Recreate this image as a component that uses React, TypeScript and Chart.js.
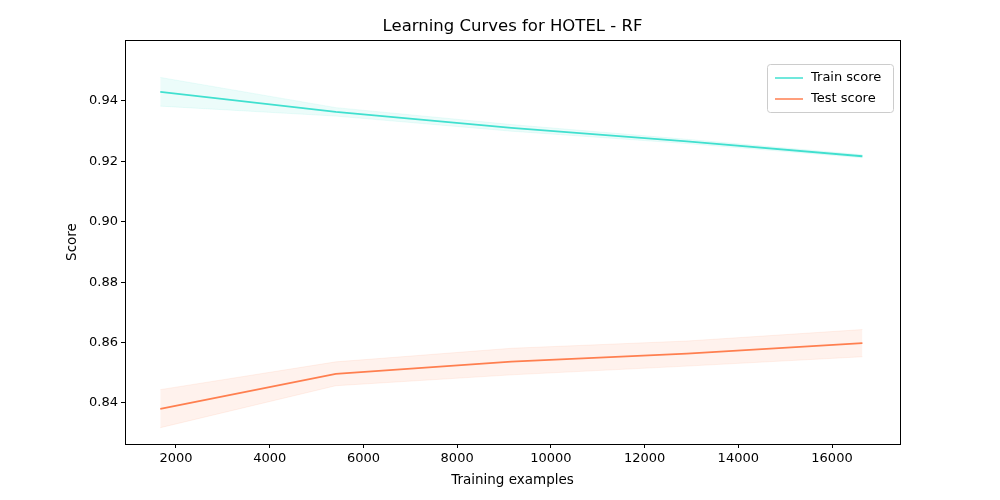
import { useEffect, useRef } from "react";
import { Chart, registerables } from "chart.js";

Chart.register(...registerables);

const trainSizes = [1665, 5411, 9157, 12903, 16649];
const trainMean = [0.943, 0.9364, 0.9311, 0.9266, 0.9217];
const trainUpper = [0.9478, 0.9378, 0.9322, 0.9273, 0.9222];
const trainLower = [0.9383, 0.935, 0.93, 0.9259, 0.9212];
const testMean = [0.838, 0.8496, 0.8537, 0.8563, 0.8598];
const testUpper = [0.8444, 0.8536, 0.8581, 0.8605, 0.8643];
const testLower = [0.8318, 0.8457, 0.8493, 0.8522, 0.8553];
const xTicks = [2000, 4000, 6000, 8000, 10000, 12000, 14000, 16000];
const yTicks = [0.84, 0.86, 0.88, 0.9, 0.92, 0.94];

const TRAIN = "#40e0d0";
const TEST = "#ff7f50";
const FONT = "DejaVu Sans";

const pts = (ys: number[]) => trainSizes.map((x, i) => ({ x, y: ys[i] }));

const framePlugin = {
  id: "frame",
  afterDraw(chart: any) {
    const { ctx, chartArea: a } = chart;
    ctx.save();
    ctx.strokeStyle = "#000";
    ctx.lineWidth = 1;
    ctx.strokeRect(a.left + 0.5, a.top + 0.5, a.right - a.left, a.bottom - a.top);
    ctx.fillStyle = "#000";
    ctx.font = `16.5px ${FONT}`;
    ctx.textAlign = "center";
    ctx.textBaseline = "alphabetic";
    ctx.fillText("Learning Curves for HOTEL - RF", (a.left + a.right) / 2, a.top - 9);
    // axis titles
    ctx.font = `13.5px ${FONT}`;
    ctx.textBaseline = "middle";
    ctx.fillText("Training examples", (a.left + a.right) / 2, 480);
    ctx.save();
    ctx.translate(72, (a.top + a.bottom) / 2);
    ctx.rotate(-Math.PI / 2);
    ctx.fillText("Score", 0, 0);
    ctx.restore();
    // legend
    const w = 126, h = 48, x = a.right - w - 7, y = a.top + 24;
    ctx.fillStyle = "rgba(255,255,255,0.8)";
    ctx.strokeStyle = "#cccccc";
    ctx.lineWidth = 1;
    ctx.beginPath();
    ctx.roundRect(x + 0.5, y + 0.5, w, h, 3);
    ctx.fill();
    ctx.stroke();
    ctx.font = `13px ${FONT}`;
    ctx.textAlign = "left";
    ctx.textBaseline = "middle";
    const items: [string, string][] = [["Train score", TRAIN], ["Test score", TEST]];
    items.forEach(([label, c], i) => {
      const ly = y + 14 + i * 21;
      ctx.strokeStyle = c;
      ctx.lineWidth = 1.5;
      ctx.beginPath();
      ctx.moveTo(x + 8, ly);
      ctx.lineTo(x + 36, ly);
      ctx.stroke();
      ctx.fillStyle = "#000";
      ctx.fillText(label, x + 44, ly);
    });
    ctx.restore();
  },
};

export default function App() {
  const canvasRef = useRef<HTMLCanvasElement | null>(null);

  useEffect(() => {
    document.body.style.margin = "0";
    const canvas = canvasRef.current;
    if (!canvas) return;
    const band = (c: string) => c + "1a";
    const chart = new Chart(canvas, {
      type: "line",
      data: {
        datasets: [
          { data: pts(trainUpper), borderWidth: 1, borderColor: band(TRAIN), pointRadius: 0, fill: false },
          { data: pts(trainLower), borderWidth: 1, borderColor: band(TRAIN), backgroundColor: band(TRAIN), pointRadius: 0, fill: "-1" },
          { data: pts(testUpper), borderWidth: 1, borderColor: band(TEST), pointRadius: 0, fill: false },
          { data: pts(testLower), borderWidth: 1, borderColor: band(TEST), backgroundColor: band(TEST), pointRadius: 0, fill: "-1" },
          { label: "Train score", data: pts(trainMean), borderColor: TRAIN, borderWidth: 1.8, pointRadius: 0, fill: false },
          { label: "Test score", data: pts(testMean), borderColor: TEST, borderWidth: 1.8, pointRadius: 0, fill: false },
        ],
      },
      options: {
        animation: false,
        responsive: false,
        layout: { padding: { top: 40, right: 100, left: 0, bottom: 0 } },
        plugins: { legend: { display: false }, tooltip: { enabled: false }, title: { display: false } },
        scales: {
          x: {
            type: "linear",
            min: 912,
            max: 17451,
            afterBuildTicks: (s: any) => { s.ticks = xTicks.map((v) => ({ value: v })); },
            afterFit: (s: any) => { s.height = 56; },
            ticks: { color: "#000", font: { family: FONT, size: 13 }, maxRotation: 0, callback: (v: any) => String(v) },
            grid: { drawOnChartArea: false, tickLength: 4, color: "#000" },
            border: { display: false },
          },
          y: {
            min: 0.8264,
            max: 0.9602,
            afterBuildTicks: (s: any) => { s.ticks = yTicks.map((v) => ({ value: v })); },
            afterFit: (s: any) => { s.width = 125; },
            ticks: { color: "#000", font: { family: FONT, size: 13 }, callback: (v: any) => Number(v).toFixed(2) },
            grid: { drawOnChartArea: false, tickLength: 4, color: "#000" },
            border: { display: false },
          },
        },
      },
      plugins: [framePlugin],
    });
    return () => chart.destroy();
  }, []);

  return <canvas ref={canvasRef} width={1000} height={500} style={{ display: "block" }} />;
}
